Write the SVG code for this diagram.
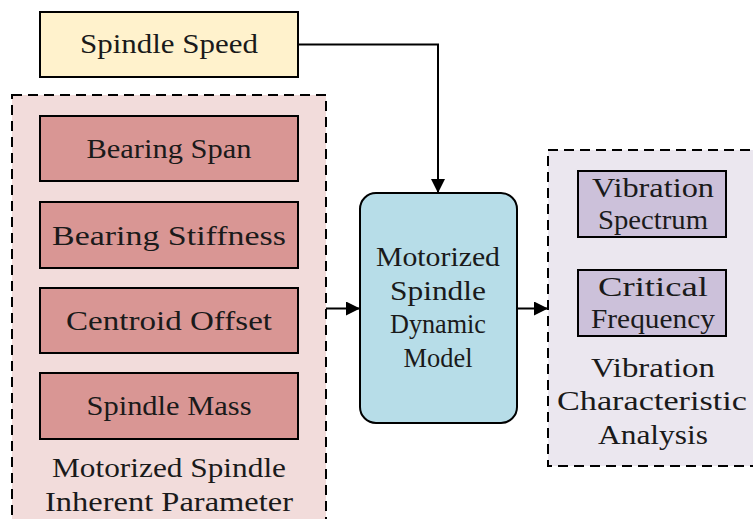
<svg xmlns="http://www.w3.org/2000/svg" width="753" height="519" viewBox="0 0 753 519">
<style>
text{font-family:"Liberation Serif","DejaVu Serif",serif;font-size:28px;fill:#1a1a1a;text-anchor:middle}
.box{stroke:#000;stroke-width:2}
.dash{stroke:#000;stroke-width:2;stroke-dasharray:10 6}
.red{fill:#d99694}
.pur{fill:#ccc1da}
.conn{fill:none;stroke:#000;stroke-width:2}
</style>
<defs>
<marker id="arr" markerWidth="14" markerHeight="14" refX="13" refY="7" orient="auto" markerUnits="userSpaceOnUse">
<path d="M0,0 L14,7 L0,14 Z" fill="#000"/>
</marker>
</defs>
<g id="speed">
<rect class="box" x="40" y="12" width="258" height="65" fill="#fff2cc"/>
<text x="169" y="53" textLength="178" lengthAdjust="spacingAndGlyphs">Spindle Speed</text>
</g>
<g id="inherent">
<rect class="dash" x="12" y="95" width="314" height="440" fill="#f2dcdb"/>
<text x="169" y="477" textLength="234" lengthAdjust="spacingAndGlyphs">Motorized Spindle</text>
<text x="169" y="511" textLength="248" lengthAdjust="spacingAndGlyphs">Inherent Parameter</text>
</g>
<g id="span">
<rect class="box red" x="40" y="116" width="258" height="65"/>
<text x="169" y="158" textLength="165" lengthAdjust="spacingAndGlyphs">Bearing Span</text>
</g>
<g id="stiffness">
<rect class="box red" x="40" y="202" width="258" height="66"/>
<text x="169" y="245" textLength="234" lengthAdjust="spacingAndGlyphs">Bearing Stiffness</text>
</g>
<g id="offset">
<rect class="box red" x="40" y="288" width="258" height="65"/>
<text x="169" y="330" textLength="206" lengthAdjust="spacingAndGlyphs">Centroid Offset</text>
</g>
<g id="mass">
<rect class="box red" x="40" y="373" width="258" height="66"/>
<text x="169" y="415" textLength="165" lengthAdjust="spacingAndGlyphs">Spindle Mass</text>
</g>
<g id="model">
<rect class="box" x="360" y="193" width="157" height="230" rx="16" fill="#b7dde8"/>
<text x="438" y="266" textLength="124" lengthAdjust="spacingAndGlyphs">Motorized</text>
<text x="438" y="300" textLength="96" lengthAdjust="spacingAndGlyphs">Spindle</text>
<text x="438" y="333" textLength="96" lengthAdjust="spacingAndGlyphs">Dynamic</text>
<text x="438" y="367" textLength="69" lengthAdjust="spacingAndGlyphs">Model</text>
</g>
<g id="analysis">
<rect class="dash" x="548" y="150" width="220" height="316" fill="#ebe7ef"/>
<text x="653" y="377" textLength="124" lengthAdjust="spacingAndGlyphs">Vibration</text>
<text x="652" y="410" textLength="190" lengthAdjust="spacingAndGlyphs">Characteristic</text>
<text x="653" y="444" textLength="110" lengthAdjust="spacingAndGlyphs">Analysis</text>
</g>
<g id="spectrum">
<rect class="box pur" x="578" y="171" width="148" height="66"/>
<text x="653" y="197" textLength="122" lengthAdjust="spacingAndGlyphs">Vibration</text>
<text x="653" y="229" textLength="110" lengthAdjust="spacingAndGlyphs">Spectrum</text>
</g>
<g id="critical">
<rect class="box pur" x="578" y="270" width="148" height="66"/>
<text x="653" y="296" textLength="110" lengthAdjust="spacingAndGlyphs">Critical</text>
<text x="653" y="328" textLength="124" lengthAdjust="spacingAndGlyphs">Frequency</text>
</g>
<g id="connectors">
<path class="conn" d="M298,44.5 H438 V192" marker-end="url(#arr)"/>
<path class="conn" d="M326,308.5 H359" marker-end="url(#arr)"/>
<path class="conn" d="M517,308.5 H547" marker-end="url(#arr)"/>
</g>
</svg>
